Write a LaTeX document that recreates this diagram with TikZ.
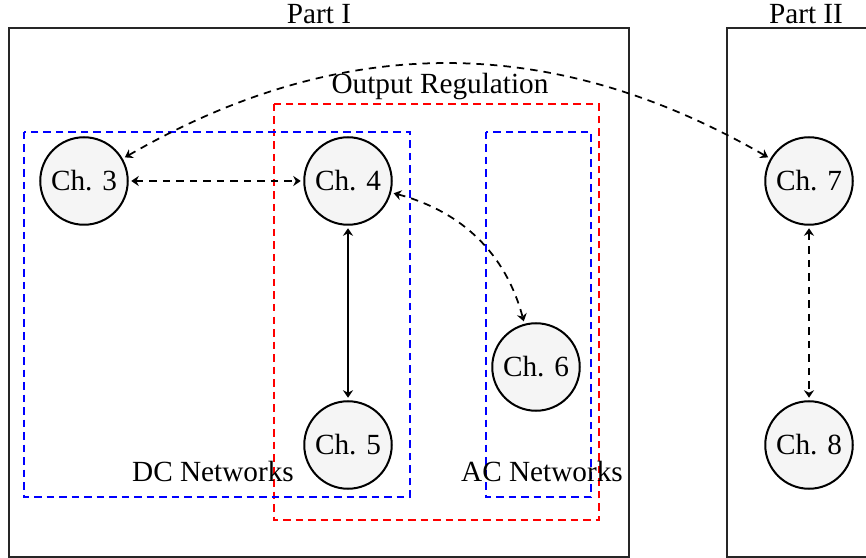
\documentclass[tikz,border=0pt]{standalone}
\usepackage{fontspec}
\setmainfont{Liberation Serif}
\usetikzlibrary{arrows.meta}
\begin{document}
\begin{tikzpicture}[x=0.4pt,y=-0.4pt,
  txt/.style={font=\fontsize{11.7}{14}\selectfont},
  chap/.style={circle,draw,line width=0.8pt,fill=black!4,minimum size=35pt,inner sep=0pt,txt},
  partbox/.style={draw,line width=0.6pt,black!85},
  groupbox/.style={draw,line width=0.6pt,dash pattern=on 3pt off 2pt},
  link/.style={line width=0.7pt,{Stealth[length=3pt,width=4pt,inset=1pt]}-{Stealth[length=3pt,width=4pt,inset=1pt]},shorten <=1pt,shorten >=1pt},
  dlink/.style={link,dash pattern=on 3pt off 2.4pt},
  lab/.style={inner sep=0pt,txt}]
\useasboundingbox (0,0) rectangle (866,558);
\clip (0,0) rectangle (866,558);

% the two parts of the thesis
\draw[partbox] (9,28) rectangle (629,557);
\draw[partbox] (727,28) rectangle (900,557);
\node[lab] (p1) at (319,14) {Part I};
\node[lab] (p2) at (806,14) {Part II};

% thematic groupings
\draw[groupbox,red] (274,104) rectangle (599,520);
\draw[groupbox,blue] (24,132) rectangle (410,497);
\draw[groupbox,blue] (486,132) rectangle (591,497);
\node[lab] (or) at (440,87) {Output Regulation};
\node[lab] (dc) at (213,471) {DC Networks};
\node[lab] (ac) at (542,471) {AC Networks};

% chapters
\node[chap] (c3) at (84,181) {Ch. 3};
\node[chap] (c4) at (348,181) {Ch. 4};
\node[chap] (c5) at (348,445) {Ch. 5};
\node[chap] (c6) at (536,367) {Ch. 6};
\node[chap] (c7) at (809,181) {Ch. 7};
\node[chap] (c8) at (809,445) {Ch. 8};

% dependencies between chapters
\draw[dlink] (c3) -- (c4);
\draw[link] (c4) -- (c5);
\draw[dlink] (c4) to[out=-15,in=105] (c6);
\draw[dlink] (c3) to[bend left=30] (c7);
\draw[dlink] (c7) -- (c8);
\end{tikzpicture}
\end{document}
